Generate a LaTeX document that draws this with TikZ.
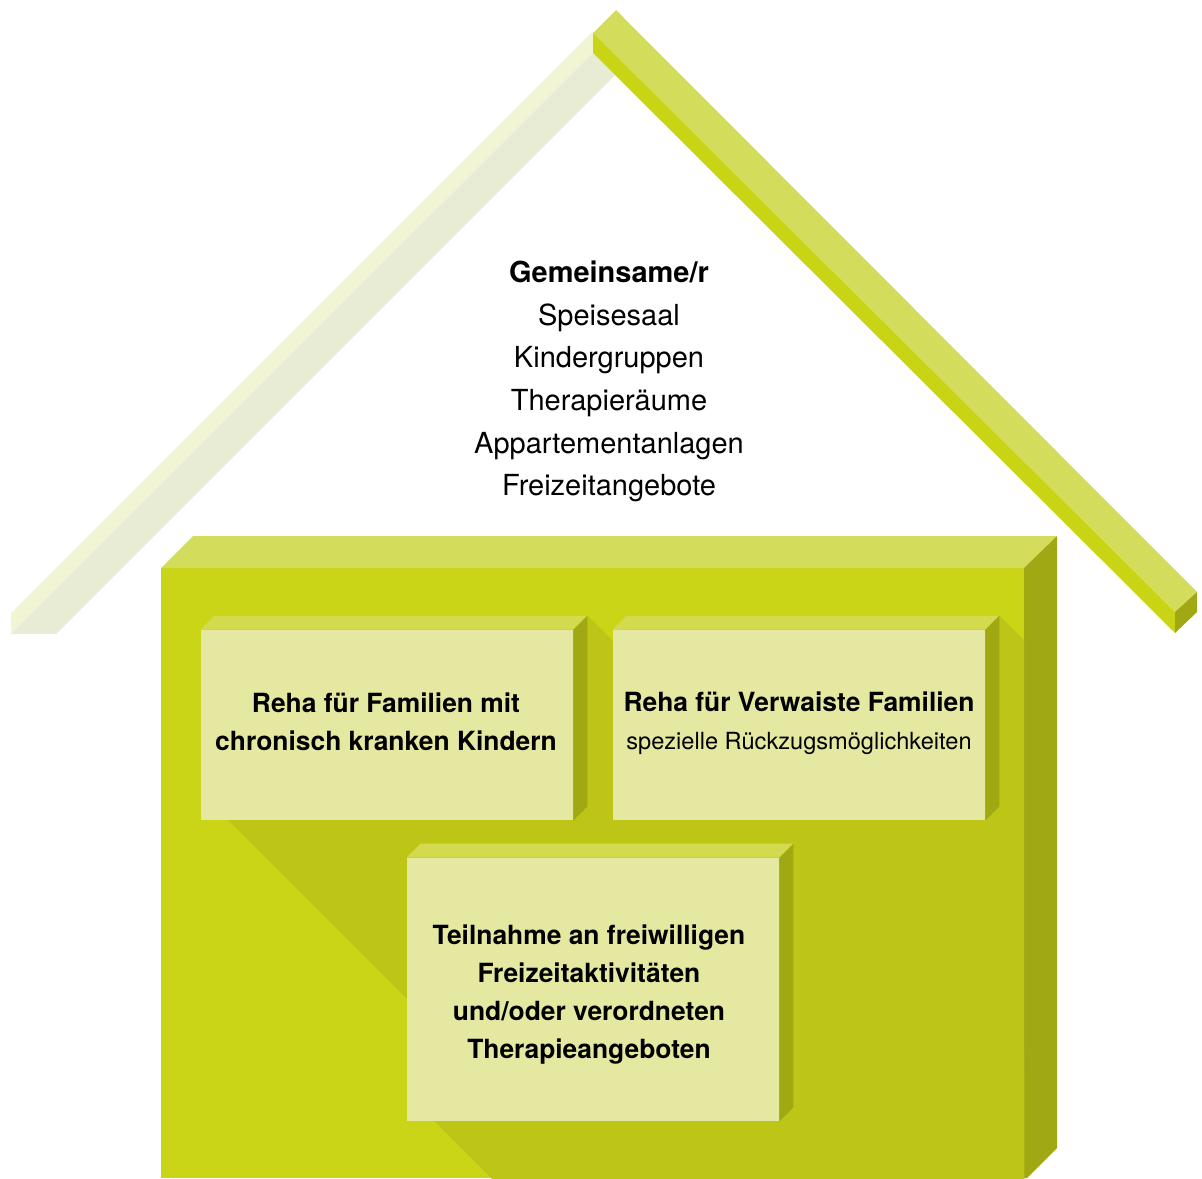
\documentclass[tikz,border=0pt]{standalone}
\usepackage{fontspec}
\setmainfont{TeX Gyre Heros}
\usetikzlibrary{calc,positioning,backgrounds}
\definecolor{roofpale}{HTML}{F1F5D4}
\definecolor{roofpalefront}{HTML}{E8ECD4}
\definecolor{rooftop}{HTML}{D4DC5C}
\definecolor{rooffront}{HTML}{C9D415}
\definecolor{roofend}{HTML}{A0A814}
\definecolor{wallfront}{HTML}{C9D516}
\definecolor{walltop}{HTML}{D4DC5C}
\definecolor{wallside}{HTML}{A0A914}
\definecolor{wallshade}{HTML}{BDC617}
\definecolor{boxfront}{HTML}{E5E8A0}
\definecolor{boxtop}{HTML}{D3DA4E}
\definecolor{boxside}{HTML}{A0A812}
\tikzset{%
	panel/.style    = {fill=boxfront, draw=none, inner sep=0pt, minimum width=186pt},
	paneltext/.style= {align=center, inner sep=0pt, font=\bfseries\fontsize{13.2}{19}\selectfont},
	roofnote/.style = {align=center, inner sep=0pt, font=\fontsize{14.5}{21.3}\selectfont},
	shade/.style    = {fill=wallshade, draw=none},
}

\begin{document}
\begin{tikzpicture}[x=0.5pt,y=-0.5pt]
	\useasboundingbox (0,0) rectangle (1202,1178);
	% roof, left beam (pale) then right beam
	\fill[roofpale] (11,613) -- (593,31) -- (593,53) -- (11,634) -- cycle;
	\fill[roofpalefront] (11,634) -- (56,634) -- (615,75) -- (593,53) -- cycle;
	\fill[rooftop] (593,33) -- (616,10) -- (1197,592) -- (1175,612) -- cycle;
	\fill[rooffront] (593,33) -- (1175,612) -- (1175,633) -- (593,53) -- cycle;
	\fill[roofend] (1175,612) -- (1197,592) -- (1197,612) -- (1175,633) -- cycle;
	
	\node[roofnote] (rooms) at (609,381.5) {\textbf{Gemeinsame/r}\\Speisesaal\\Kindergruppen\\Therapieräume\\Appartementanlagen\\Freizeitangebote};
	
	% boxes
	\node[panel, minimum height=95pt] (chronic) at (387,725) {};
	\node[panel, minimum height=95pt] (orphaned) at (799,725) {};
	\node[panel, minimum height=131.5pt] (leisure) at (593,989.5) {};
	
	\foreach \b in {chronic,orphaned,leisure}{
		\fill[boxtop] (\b.north west) -- ++(14,-14) -- ($(\b.north east)+(14,-14)$) -- (\b.north east) -- cycle;
		\fill[boxside] (\b.north east) -- ++(14,-14) -- ($(\b.south east)+(14,-14)$) -- (\b.south east) -- cycle;
	}
	
	\node[paneltext] (chronictext) at ($(chronic.center)+(-1,-3)$) {Reha für Familien mit\\chronisch kranken Kindern};
	\node[paneltext] (orphanedtext) at ($(orphaned.center)+(0,-2)$) {Reha für Verwaiste Familien\\{\mdseries\fontsize{11.8}{19}\selectfont spezielle Rückzugsmöglichkeiten}};
	\node[paneltext] (leisuretext) at ($(leisure.center)+(-4,5.5)$) {Teilnahme an freiwilligen\\Freizeitaktivitäten\\und/oder verordneten\\Therapieangeboten};
	
	\begin{scope}[on background layer]
	% house body
	\fill[wallfront] (161,568) rectangle (1024,1178);
	\fill[walltop] (161,568) -- (193,536) -- (1057,536) -- (1024,568) -- cycle;
	\fill[wallside] (1024,568) -- (1057,536) -- (1057,1148) -- (1027,1178) -- (1024,1178) -- cycle;
	\clip (161,568) rectangle (1024,1178);
	\foreach \b in {chronic,orphaned,leisure}{
		\fill[shade] ($(\b.north west)+(14,-14)$) -- ($(\b.north east)+(14,-14)$) -- ++(700,700) -- ($(\b.south west)+(714,686)$) -- ($(\b.south west)+(14,-14)$) -- cycle;
	}
	\end{scope}
	
\end{tikzpicture}
\end{document}
